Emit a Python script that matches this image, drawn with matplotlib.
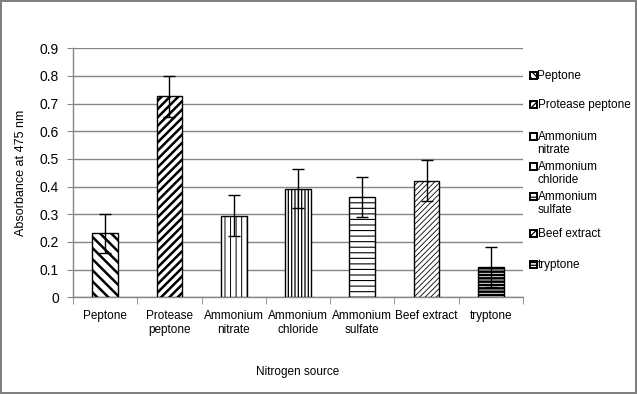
import numpy as np
import matplotlib
matplotlib.use("Agg")
import matplotlib.pyplot as plt
from matplotlib.patches import Rectangle

plt.rcParams['font.family'] = ['Liberation Sans', 'DejaVu Sans']

# data
categories = ["Peptone", "Protease\npeptone", "Ammonium\nnitrate", "Ammonium\nchloride",
              "Ammonium\nsulfate", "Beef extract", "tryptone"]
legend_labels = ["Peptone", "Protease peptone", "Ammonium\nnitrate", "Ammonium\nchloride",
                 "Ammonium\nsulfate", "Beef extract", "tryptone"]
values = [0.231, 0.726, 0.295, 0.393, 0.364, 0.422, 0.111]
errors = [0.071, 0.075, 0.073, 0.072, 0.072, 0.073, 0.072]
y_ticks = [0, 0.1, 0.2, 0.3, 0.4, 0.5, 0.6, 0.7, 0.8, 0.9]

# styles per bar (hatch, hatch line width)
hatches = ['\\\\\\', '////', '|||', '|||||', '---', '//////', '-----']
hatch_lw = [1.8, 1.8, 0.7, 0.9, 0.8, 0.6, 1.8]
leg_hatches = ['\\\\\\\\\\', '//////', '', '', '---', '//////', '------']

fig = plt.figure(figsize=(6.37, 3.94), dpi=100)
fig.patch.set_edgecolor('#808080')
fig.patch.set_linewidth(1.5)
ax = fig.add_axes([0.1146, 0.2454, 0.7064, 0.632])

x = np.arange(len(categories))
for i in range(len(categories)):
    with plt.rc_context({'hatch.linewidth': hatch_lw[i]}):
        ax.bar(x[i], values[i], width=0.4, color='white', edgecolor='black',
               hatch=hatches[i], linewidth=1.0, zorder=3)
ax.errorbar(x, values, yerr=errors, fmt='none', ecolor='black', elinewidth=1.0,
            capsize=4, capthick=1.0, zorder=4)

ax.set_xlim(-0.5, len(categories) - 0.5)
ax.set_ylim(0, 0.9)
ax.set_yticks(y_ticks)
ax.set_yticklabels([f"{t:g}" for t in y_ticks], fontsize=10)
ax.yaxis.grid(True, color='#868686', linewidth=1.0, zorder=0)
ax.set_axisbelow(True)
ax.tick_params(axis='y', length=4, color='#868686', pad=6)

ax.set_xticks(x)
ax.set_xticklabels(categories, fontsize=8.5)
ax.tick_params(axis='x', length=0, pad=9)
ax.set_xticks(np.arange(-0.5, len(categories), 1), minor=True)
ax.tick_params(axis='x', which='minor', length=5, color='#868686')

for s in ['top', 'right']:
    ax.spines[s].set_visible(False)
for s in ['left', 'bottom']:
    ax.spines[s].set_color('#868686')
    ax.spines[s].set_linewidth(1.0)

ax.set_ylabel("Absorbance at 475 nm", fontsize=9, labelpad=9)
ax.set_xlabel("Nitrogen source", fontsize=8.5, labelpad=22)

# legend drawn by hand to keep Excel-like layout
leg_y = [75, 104, 136, 166, 196, 233, 264]
for i, lab in enumerate(legend_labels):
    yy = 1 - leg_y[i] / 394
    with plt.rc_context({'hatch.linewidth': 0.9}):
        fig.patches.append(Rectangle((529.5 / 637, yy - 4 / 394), 7 / 637, 7 / 394,
                                     transform=fig.transFigure, facecolor='white',
                                     edgecolor='black', hatch=leg_hatches[i],
                                     linewidth=1.4))
    fig.text(537.5 / 637, yy + 5 / 394, lab, fontsize=8.5, va='top', ha='left',
             linespacing=1.15)

fig.savefig("out.png", dpi=100, edgecolor=fig.get_edgecolor())
